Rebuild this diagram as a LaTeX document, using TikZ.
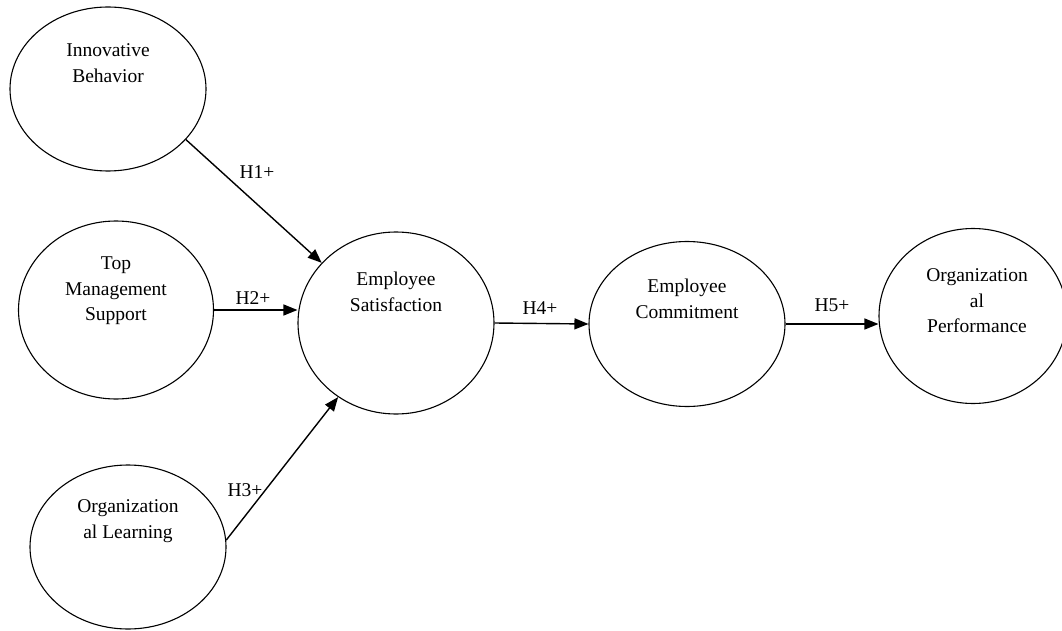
\documentclass[tikz,border=0pt]{standalone}
\usepackage{fontspec}
\setmainfont{Liberation Serif}
\usetikzlibrary{shapes.geometric,arrows.meta}
\tikzset{
  construct/.style={draw, ellipse, line width=1.1pt, inner sep=0pt},
  ctext/.style={align=center, font=\fontsize{19.5}{25.5}\selectfont, inner sep=0pt},
  hlabel/.style={font=\fontsize{19.5}{23}\selectfont, inner sep=0pt},
  path/.style={line width=1.4pt, -{Triangle[length=14pt,width=11pt]}}
}
\begin{document}
\begin{tikzpicture}[x=1pt,y=-1pt]
\useasboundingbox (0,0) rectangle (1062,631);
% ellipses
\node[construct, minimum width=196pt, minimum height=164pt] (ib)  at (108,89) {};
\node[construct, minimum width=195pt, minimum height=178pt] (tms) at (116,310) {};
\node[construct, minimum width=196pt, minimum height=164pt] (ol)  at (128,547) {};
\node[construct, minimum width=196pt, minimum height=182pt] (es)  at (396,323) {};
\node[construct, minimum width=196pt, minimum height=165pt] (ec)  at (687,324) {};
\node[construct, minimum width=188pt, minimum height=175pt] (op)  at (973,316) {};
% texts
\node[ctext] (ibt)  at (108,63)  {Innovative\\Behavior};
\node[ctext] (tmst) at (116,291) {Top\\Management\\Support};
\node[ctext] (olt)  at (128,521) {Organization\\al Learning};
\node[ctext] (est)  at (396,292) {Employee\\Satisfaction};
\node[ctext] (ect)  at (687,299) {Employee\\Commitment};
\node[ctext] (opt)  at (977,301) {Organization\\al\\Performance};
% connectors
\draw[path] (ib.-33.5) -- (es.141);
\draw[path] (tms.east) -- (tms.east -| es.west);
\draw[path] (ol.4.7) -- (es.-128.4);
\draw[path] (es.east) -- (ec.west);
\draw[path] (ec.east) -- (ec.east -| op.west);
% labels
\node[hlabel] (h1) at (257,172) {H1+};
\node[hlabel] (h2) at (253,298) {H2+};
\node[hlabel] (h3) at (245,490) {H3+};
\node[hlabel] (h4) at (540,308) {H4+};
\node[hlabel] (h5) at (832,305) {H5+};
\end{tikzpicture}
\end{document}
